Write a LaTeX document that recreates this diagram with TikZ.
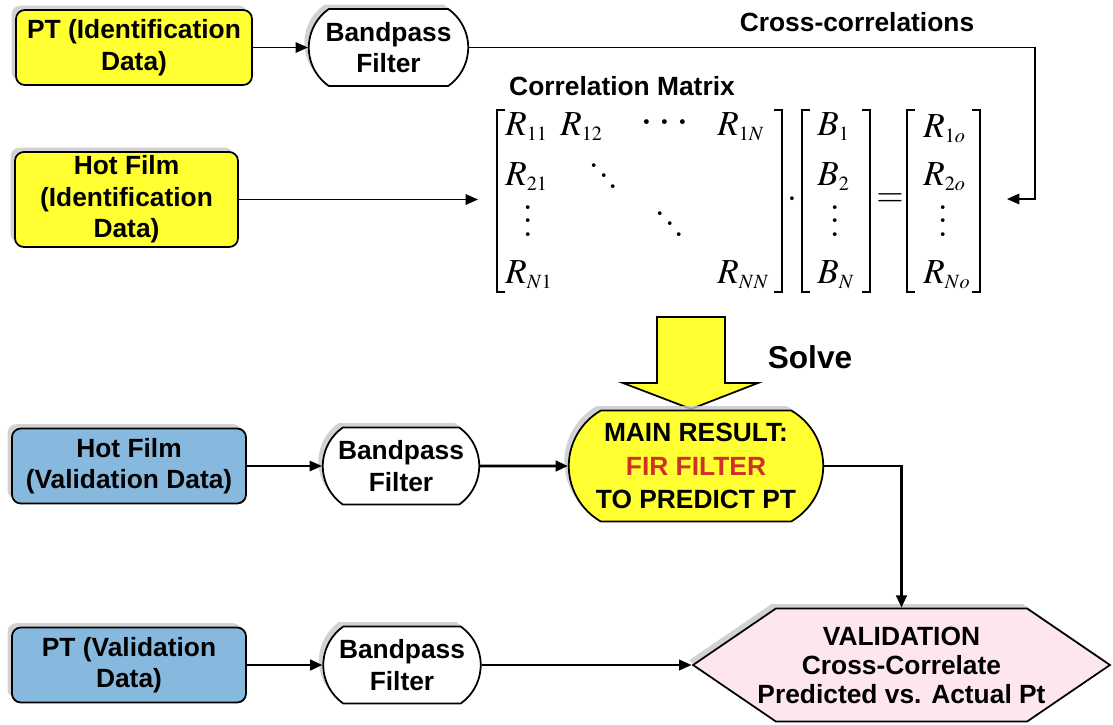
\documentclass[tikz,border=0pt]{standalone}
\usepackage{mathptmx}
\usepackage[no-math]{fontspec}
\newfontfamily\arial{Liberation Sans}
\DeclareMathSizes{20}{20}{11.5}{9}
\usetikzlibrary{arrows.meta,positioning,shapes.misc,shapes.symbols,shadows}
\definecolor{idyellow}{RGB}{255,255,50}
\definecolor{valblue}{RGB}{135,185,222}
\definecolor{valpink}{RGB}{253,231,237}
\definecolor{firred}{RGB}{204,51,38}
\newcommand\tallvdots{\vbox{\baselineskip=7.5pt\lineskiplimit=0pt\hbox{.}\hbox{.}\hbox{.}}}
\newcommand\tallddots{\mbox{\raisebox{12pt}{.}\kern-1.2pt\raisebox{6pt}{.}\kern-1.2pt.}}

\begin{document}
\begin{tikzpicture}[x=0.02cm,y=-0.02cm,every node/.style={font=\arial\bfseries\fontsize{15}{18}\selectfont,align=center},boxshadow/.style={drop shadow={shadow xshift=-2.5pt,shadow yshift=2.5pt,fill=black!22,opacity=.8}},datayel/.style={rectangle,draw,line width=1pt,rounded corners=5pt,fill=idyellow,boxshadow,inner sep=1pt},datablue/.style={datayel,fill=valblue},filt/.style={rounded rectangle,rounded rectangle arc length=110,draw,line width=1pt,fill=white,boxshadow,minimum width=3.22cm,minimum height=1.54cm,inner sep=1pt},result/.style={rounded rectangle,rounded rectangle arc length=120,draw,line width=1pt,fill=idyellow,boxshadow,minimum width=5.16cm,minimum height=2.22cm,inner sep=1pt,font=\arial\bfseries\fontsize{15}{19}\selectfont},check/.style={signal,signal to=west and east,signal pointer angle=68.6,draw,line width=1pt,fill=valpink,boxshadow,minimum width=8.34cm,minimum height=2.26cm,inner xsep=-12pt,inner ysep=0pt,font=\arial\bfseries\fontsize{15}{16.5}\selectfont},ent/.style={font=\fontsize{20}{22}\selectfont,inner sep=0pt},dots/.style={font=\fontsize{26}{26}\selectfont,inner sep=0pt},link/.style={line width=.8pt,-{Triangle[length=7pt,width=6pt]}},thicklink/.style={line width=1.6pt,-{Triangle[length=7pt,width=6pt]}},brk/.style={line width=1.1pt}]
\useasboundingbox (0,0) rectangle (1113,724);
% identification row
\node[datayel,minimum width=4.72cm,minimum height=1.5cm] (pti) at (134,47.5) {PT (Identification\\Data)};
\node[filt,minimum width=3.26cm] (bp1) at (388.5,47.5) {Bandpass\\Filter};
\node[datayel,minimum width=4.46cm,minimum height=1.9cm] (hfi) at (126.5,199.5) {Hot Film\\(Identification\\Data)};
\node (cc) at (857,22) {Cross-correlations};
\node (cmlbl) at (622,86) {Correlation Matrix};
\coordinate (ccturn) at (1035,47.5);
\coordinate (ccend) at (1007,199);
\coordinate (matin) at (478,199.5);
\draw[link] (pti) -- (bp1);
\draw[link] (bp1.east) -- (ccturn) |- (ccend);
\draw[link] (hfi) -- (matin);
% the matrix equation
\node[ent,anchor=base west] (r11) at (505,135) {$R_{11}$};
\node[ent,anchor=base west] (r12) at (560,135) {$R_{12}$};
\node[ent,font=\fontsize{26}{26}\selectfont] (rcd) at (665,124) {$\cdots$};
\node[ent,anchor=base west] (r1n) at (717,135) {$R_{1N}$};
\node[ent,anchor=base west] (r21) at (505,185) {$R_{21}$};
\node[dots] (rdd1) at (604,176) {\tallddots};
\node[dots] (rvd) at (528,221) {\tallvdots};
\node[dots] (rdd2) at (670,224) {\tallddots};
\node[ent,anchor=base west] (rn1) at (505,283) {$R_{N1}$};
\node[ent,anchor=base west] (rnn) at (717,283) {$R_{NN}$};
\node[ent] (dotop) at (792,200) {$\cdot$};
\node[ent,anchor=base west] (b1) at (817,135) {$B_{1}$};
\node[ent,anchor=base west] (b2) at (817,185) {$B_{2}$};
\node[dots] (bvd) at (835,221) {\tallvdots};
\node[ent,anchor=base west] (bn) at (817,283) {$B_{N}$};
\node[ent] (eqop) at (890,200) {$=$};
\node[ent,anchor=base west] (ro1) at (923,137) {$R_{1o}$};
\node[ent,anchor=base west] (ro2) at (923,185) {$R_{2o}$};
\node[dots] (rovd) at (943,221) {\tallvdots};
\node[ent,anchor=base west] (ron) at (923,283) {$R_{No}$};
\draw[brk] (505,110) -- (497,110) -- (497,292) -- (505,292);
\draw[brk] (774,110) -- (782,110) -- (782,292) -- (774,292);
\draw[brk] (810,110) -- (802,110) -- (802,292) -- (810,292);
\draw[brk] (862,110) -- (870,110) -- (870,292) -- (862,292);
\draw[brk] (915,110) -- (907,110) -- (907,292) -- (915,292);
\draw[brk] (972,110) -- (980,110) -- (980,292) -- (972,292);
% solve step
\draw[line width=1pt,fill=idyellow] (657,317) -- (725,317) -- (725,383) -- (758,383) -- (691,409) -- (623,383) -- (657,383) -- cycle;
\node[font=\arial\bfseries\fontsize{18}{20}\selectfont] (solve) at (810,357) {Solve};
% validation rows
\node[result] (main) at (696,466) {MAIN RESULT:\\\textcolor{firred}{FIR FILTER}\\TO PREDICT PT};
\node[datablue,minimum width=4.68cm,minimum height=1.5cm] (hfv) at (129,466) {Hot Film\\(Validation Data)};
\node[filt,minimum width=3.2cm] (bp2) at (401,466) {Bandpass\\Filter};
\node[datablue,minimum width=4.68cm,minimum height=1.5cm] (ptv) at (129,665) {PT (Validation\\Data)};
\node[filt] (bp3) at (402,665) {Bandpass\\Filter};
\node[check] (valid) at (901.5,665) {VALIDATION\\Cross-Correlate\\Predicted vs. Actual Pt};
\draw[link] (hfv) -- (bp2);
\draw[thicklink] (bp2) -- (main);
\draw[thicklink] (main.east) -| (valid.north);
\draw[thicklink] (ptv) -- (bp3);
\draw[link,line width=1pt] (bp3) -- (valid);
\end{tikzpicture}
\end{document}
